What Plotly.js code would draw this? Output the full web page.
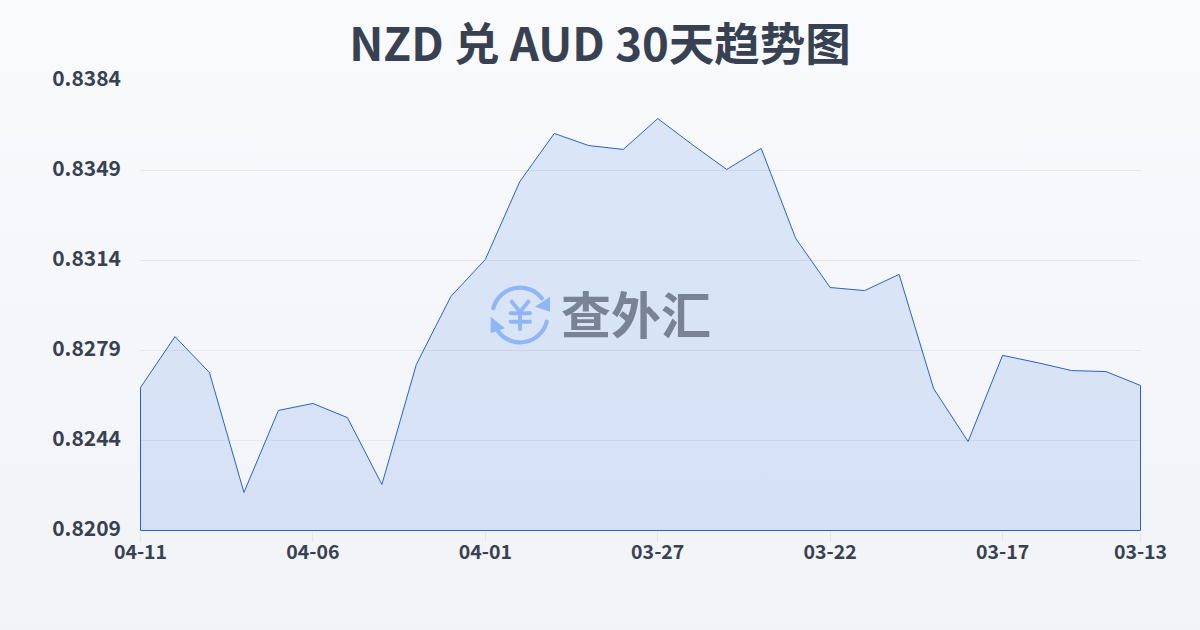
<!DOCTYPE html>
<html><head><meta charset="utf-8">
<script src="https://cdn.plot.ly/plotly-3.0.1.min.js"></script>
<style>html,body{margin:0;padding:0;width:1200px;height:630px;overflow:hidden;background:linear-gradient(180deg,#f8fafc 0%,#f1f3f7 100%)}#c{width:1200px;height:630px}</style>
</head><body><div id="c"></div>
<script>
const dates=["04-11","04-10","04-09","04-08","04-07","04-06","04-05","04-04","04-03","04-02","04-01","03-31","03-30","03-29","03-28","03-27","03-26","03-25","03-24","03-23","03-22","03-21","03-20","03-19","03-18","03-17","03-16","03-15","03-14","03-13"];
const rates=[0.82646,0.82844,0.82704,0.82238,0.82557,0.82584,0.82529,0.82269,0.82736,0.8300,0.83144,0.83447,0.83634,0.83587,0.83572,0.83692,0.83591,0.83494,0.83576,0.83226,0.83035,0.83023,0.83086,0.82642,0.82436,0.82771,0.82743,0.82712,0.82708,0.82654];
const xTicks=["04-11","04-06","04-01","03-27","03-22","03-17","03-13"];
const yTicks=[0.8209,0.8244,0.8279,0.8314,0.8349,0.8384];
const base=yTicks[0];
const first=dates[0],last=dates[dates.length-1];
const ink="#374151";
const font="'Noto Sans CJK SC','Noto Sans',sans-serif";
const icon="data:image/svg+xml;base64,"+btoa(`<svg xmlns="http://www.w3.org/2000/svg" viewBox="0 0 60 60" width="60" height="60"><g fill="none" stroke="#8fb6f5" stroke-width="4.2" stroke-linecap="round"><path d="M3.300 23.300A27.500 27.500 0 0 1 51.700 13.300"/><path d="M56.700 36.700A27.500 27.500 0 0 1 8.300 46.700"/><path d="M21.700 16.700L30 26.700L38.300 16.700M20.700 28.300H40M20.700 36.700H40M30 26.700V44.300" stroke-width="4"/></g><path d="M60 11.700L60 26.700L45 21.700Z" fill="#8fb6f5"/><path d="M.7 31.700L.7 48.300L15 43.300Z" fill="#8fb6f5"/></svg>`);
Plotly.newPlot("c",[{
 type:"scatter",mode:"lines",cliponaxis:false,
 x:[first,...dates,last,first],
 y:[base,...rates,base,base],
 fill:"toself",fillcolor:"rgba(50,110,235,0.14)",
 line:{color:"#2563d0",width:1},hoverinfo:"skip"
}],{
 width:1200,height:630,paper_bgcolor:"rgba(0,0,0,0)",plot_bgcolor:"rgba(0,0,0,0)",
 margin:{l:140,r:59,t:80,b:99},showlegend:false,
 title:{text:"NZD 兑 AUD 30天趋势图",x:0.5,xanchor:"center",y:0.929,yanchor:"middle",font:{family:font,size:45.5,weight:700,color:ink}},
 xaxis:{type:"category",categoryorder:"array",categoryarray:dates,range:[-0.0145,29.0145],tickmode:"array",tickvals:xTicks,ticktext:xTicks,showgrid:false,zeroline:false,showline:false,ticks:"outside",ticklen:10,tickwidth:1,tickcolor:"#e5e7eb",tickfont:{family:font,size:19.5,weight:700,color:ink},tickangle:0,ticklabelstandoff:-6},
 yaxis:{range:[base-0.00002,yTicks[5]+0.00002],tickmode:"array",tickvals:yTicks,ticktext:yTicks.map(v=>v.toFixed(4)),showgrid:true,gridcolor:"#e5e7eb",gridwidth:1,zeroline:false,showline:false,ticks:"",tickfont:{family:font,size:21,weight:700,color:ink},ticklabelstandoff:18,ticklabelshift:-2},
 images:[{source:icon,xref:"paper",yref:"paper",x:(520-140)/1001,y:(531-315)/451,sizex:60/1001,sizey:60/451,xanchor:"center",yanchor:"middle",sizing:"stretch",layer:"above"}],
 annotations:[{text:"查外汇",xref:"paper",yref:"paper",x:(636-140)/1001,y:(531-312)/451,xanchor:"center",yanchor:"middle",showarrow:false,font:{family:font,size:50,weight:700,color:"#7a8296"}}]
},{displayModeBar:false,staticPlot:true});
</script></body></html>
